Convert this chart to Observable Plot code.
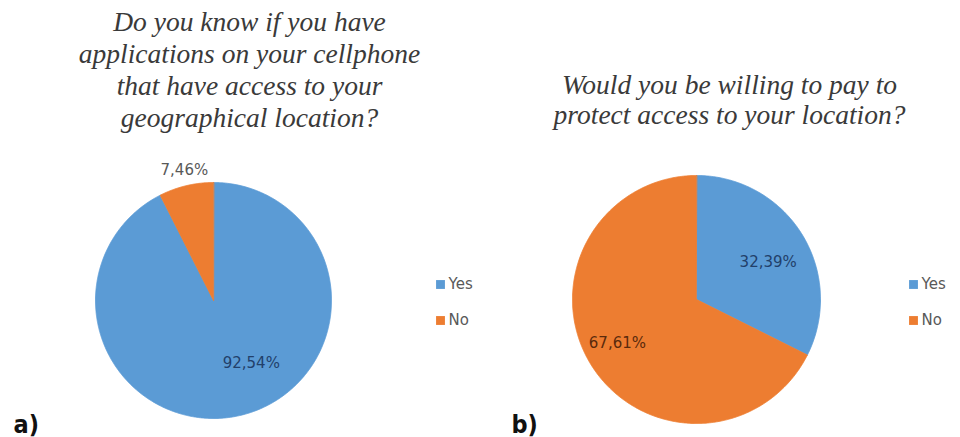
<!DOCTYPE html>
<html>
<head>
<meta charset="utf-8">
<script src="https://cdn.jsdelivr.net/npm/d3@7"></script>
<script src="https://cdn.jsdelivr.net/npm/@observablehq/plot@0.6"></script>
<style>
  html, body { margin: 0; padding: 0; background: #ffffff; }
  #chart { width: 960px; height: 437px; }
  .tag text { font-stretch: condensed; }
</style>
</head>
<body>
<div id="chart"></div>
<script>
// ---------- data ----------
const categories = ["Yes", "No"];
const valuesA = [92.54, 7.46];
const valuesB = [32.39, 67.61];
const labelsA = ["92,54%", "7,46%"];
const labelsB = ["32,39%", "67,61%"];
const titleA = ["Do you know if you have", "applications on your cellphone", "that have access to your", "geographical location?"];
const titleB = ["Would you be willing to pay to", "protect access to your location?"];
const panelTags = ["a)", "b)"];
const colors = ["#5B9BD5", "#ED7D31"];

// ---------- layout ----------
const W = 960, H = 437;
const pies = [
  {id: "A", values: valuesA, labels: labelsA, cx: 213, cy: 300, r: 118,
   labelF: [0.62, 1.13], labelDa: [-17.7, 0.8], labelColor: ["#22406a", "#595959"],
   title: titleA, titleX: 249, titleY0: 30, titleDy: 32.3,
   legendX: 440, tagX: 13},
  {id: "B", values: valuesB, labels: labelsB, cx: 696, cy: 299, r: 124,
   labelF: [0.65, 0.73], labelDa: [4.5, 2.6], labelColor: ["#22406a", "#5a2a0c"],
   title: titleB, titleX: 729, titleY0: 93, titleDy: 30,
   legendX: 913, tagX: 511}
];
const legendY = [284, 320];

// ---------- geometry from data ----------
const slicePts = [];
const sliceLabels = [];
const titleRows = [];
const legendRows = [];
const tagRows = [];
pies.forEach((p, pi) => {
  const arcs = d3.pie().sort(null).value(d => d)(p.values);
  arcs.forEach((a, i) => {
    const id = p.id + i;
    const span = a.endAngle - a.startAngle;
    const n = Math.max(2, Math.ceil(span / (Math.PI / 360)));
    slicePts.push({id, cat: categories[i], x: p.cx, y: p.cy});
    for (let k = 0; k <= n; k++) {
      const t = a.startAngle + span * k / n;
      slicePts.push({id, cat: categories[i], x: p.cx + p.r * Math.sin(t), y: p.cy - p.r * Math.cos(t)});
    }
    const mid = (a.startAngle + a.endAngle) / 2 + p.labelDa[i] * Math.PI / 180;
    const rr = p.r * p.labelF[i];
    sliceLabels.push({text: p.labels[i], x: p.cx + rr * Math.sin(mid), y: p.cy - rr * Math.cos(mid), color: p.labelColor[i]});
  });
  p.title.forEach((t, i) => titleRows.push({text: t, x: p.titleX, y: p.titleY0 + i * p.titleDy}));
  categories.forEach((c, i) => legendRows.push({cat: c, x: p.legendX, y: legendY[i]}));
  tagRows.push({text: panelTags[pi], x: p.tagX, y: 432});
});

const chart = Plot.plot({
  width: W,
  height: H,
  margin: 0,
  x: {domain: [0, W], range: [0, W], axis: null},
  y: {domain: [0, H], range: [0, H], axis: null},
  color: {type: "ordinal", domain: categories, range: colors},
  style: {background: "#ffffff"},
  marks: [
    Plot.line(slicePts, {x: "x", y: "y", z: "id", fill: "cat", stroke: "cat", strokeWidth: 0.8, curve: "linear-closed"}),
    Plot.text(sliceLabels, {x: "x", y: "y", text: "text", fill: "color", fontSize: 15,
      fontFamily: "DejaVu Sans, sans-serif", textAnchor: "middle", lineAnchor: "middle"}),
    Plot.text(titleRows, {x: "x", y: "y", text: "text", fill: "#3a3a3a", fontSize: 27.5,
      fontFamily: "Liberation Serif, Times New Roman, serif", fontStyle: "italic",
      textAnchor: "middle", lineAnchor: "bottom"}),
    Plot.dot(legendRows, {x: "x", y: "y", fill: "cat", symbol: "square", r: 5}),
    Plot.text(legendRows, {x: d => d.x + 8, y: "y", text: "cat", fill: "#595959", fontSize: 15,
      fontFamily: "DejaVu Sans, sans-serif", textAnchor: "start", lineAnchor: "middle"}),
    Plot.text(tagRows, {x: "x", y: "y", text: "text", fill: "#111111", fontSize: 25, fontWeight: "bold",
      fontFamily: "DejaVu Sans Condensed, Liberation Sans Narrow, sans-serif",
      textAnchor: "start", lineAnchor: "bottom", className: "tag"})
  ]
});
document.getElementById("chart").appendChild(chart);
</script>
</body>
</html>
